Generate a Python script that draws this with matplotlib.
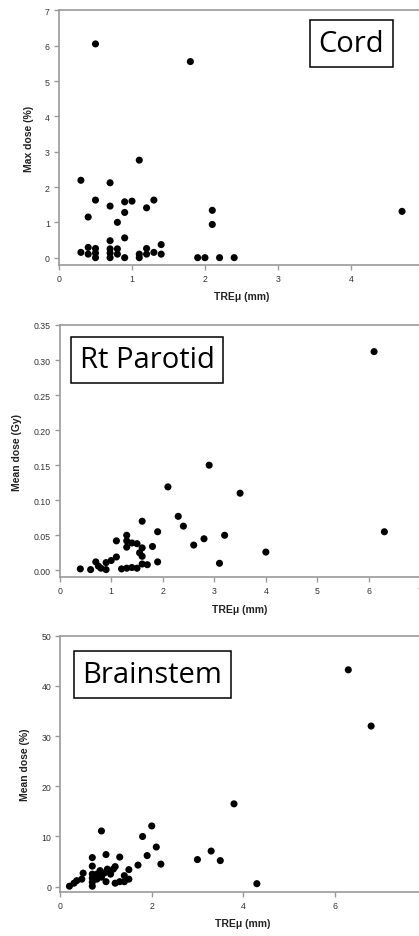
import matplotlib.pyplot as plt

# --- data ---
cord_x = [0.5, 1.8, 1.1, 0.3, 0.7, 0.5, 0.9, 1.0, 1.3, 0.7, 1.2, 0.9, 0.4, 0.8,
          2.1, 2.1, 4.7, 0.9, 0.7, 1.4,
          0.3, 0.4, 0.4, 0.5, 0.5, 0.5, 0.7, 0.7, 0.7, 0.8, 0.8, 0.9,
          1.1, 1.1, 1.2, 1.2, 1.3, 1.4, 1.9, 2.0, 2.2, 2.4]
cord_y = [6.05, 5.55, 2.76, 2.19, 2.12, 1.63, 1.58, 1.6, 1.63, 1.46, 1.41, 1.28, 1.15, 1.0,
          1.34, 0.94, 1.31, 0.56, 0.48, 0.37,
          0.15, 0.29, 0.1, 0.26, 0.13, 0.0, 0.25, 0.13, 0.0, 0.25, 0.1, 0.0,
          0.1, 0.0, 0.26, 0.1, 0.15, 0.1, 0.0, 0.0, 0.0, 0.0]

parotid_x = [6.1, 6.3, 2.9, 2.1, 3.5, 2.3, 2.4, 1.6, 1.9, 3.2, 2.8, 2.6, 4.0, 3.1,
             1.8, 1.9, 1.7, 1.6, 1.1, 1.1, 1.3, 1.3, 1.3, 1.4, 1.5, 1.6, 1.55, 1.6,
             0.4, 0.6, 0.7, 0.75, 0.8, 0.9, 0.9, 1.0, 1.2, 1.3, 1.4, 1.5]
parotid_y = [0.312, 0.055, 0.150, 0.119, 0.110, 0.077, 0.063, 0.070, 0.055, 0.050, 0.045, 0.036, 0.026, 0.010,
             0.034, 0.012, 0.008, 0.009, 0.042, 0.019, 0.050, 0.042, 0.033, 0.039, 0.038, 0.032, 0.025, 0.020,
             0.002, 0.001, 0.012, 0.006, 0.003, 0.001, 0.011, 0.014, 0.002, 0.003, 0.004, 0.003]

brain_x = [6.3, 6.8, 3.8, 2.0, 0.9, 1.8, 2.1, 3.3, 1.9, 3.0, 3.5, 1.0, 1.3, 0.7, 2.2, 1.7, 4.3,
           0.2, 0.3, 0.36, 0.47, 0.5, 0.7, 0.7, 0.7, 0.7, 0.7, 0.8, 0.8, 0.87, 0.9, 0.96,
           1.0, 1.03, 1.1, 1.16, 1.2, 1.2, 1.3, 1.4, 1.4, 1.5, 1.5]
brain_y = [43.2, 32.0, 16.5, 12.1, 11.1, 10.0, 7.9, 7.1, 6.2, 5.4, 5.2, 6.4, 5.9, 5.8, 4.5, 4.3, 0.6,
           0.1, 0.7, 1.2, 1.5, 2.7, 0.1, 0.9, 1.7, 2.5, 4.1, 1.5, 2.5, 3.2, 1.9, 2.7,
           1.0, 3.5, 2.5, 3.5, 4.0, 0.7, 1.0, 2.2, 1.0, 3.4, 1.5]

# tick labels; the last x tick of the top and bottom panel falls past the right edge
cord_xlabels = ["0", "1", "2", "3", "4", ""]
parotid_xlabels = ["0", "1", "2", "3", "4", "5", "6", "7"]
brain_xlabels = ["0", "2", "4", "6", ""]

panels = [
    # (x, y, title, ylabel, xlim, ylim, xticks, xticklabels, yticks, yfmt, rect, title pos)
    (cord_x, cord_y, "Cord", "Max dose (%)", (0, 5), (-0.2, 7),
     [0, 1, 2, 3, 4, 5], cord_xlabels, [0, 1, 2, 3, 4, 5, 6, 7], "{:.0f}",
     [0.1408, 0.7164, 0.871, 0.2715], (351.5, 44.5)),
    (parotid_x, parotid_y, "Rt Parotid", "Mean dose (Gy)", (0, 7), (-0.01, 0.35),
     [0, 1, 2, 3, 4, 5, 6, 7], parotid_xlabels, [0, 0.05, 0.10, 0.15, 0.20, 0.25, 0.30, 0.35], "{:.2f}",
     [0.1425, 0.3828, 0.861, 0.2693], (147, 361)),
    (brain_x, brain_y, "Brainstem", "Mean dose (%)", (0, 8), (-1.05, 50),
     [0, 2, 4, 6, 8], brain_xlabels, [0, 10, 20, 30, 40, 50], "{:.0f}",
     [0.1439, 0.0470, 0.8728, 0.2735], (152.5, 675.5)),
]

W, H = 419, 937
fig = plt.figure(figsize=(W / 100, H / 100), dpi=100)
fig.patch.set_facecolor("white")

spine_col = "#9a9a9a"
tick_font = ["Liberation Sans", "DejaVu Sans"]

for x, y, title, ylab, xl, yl, xt, xtl, yt, yfmt, rect, tpos in panels:
    ax = fig.add_axes(rect)
    ax.scatter(x, y, s=26, color="black", edgecolors="none", zorder=3, clip_on=False)
    ax.set_xlim(*xl)
    ax.set_ylim(*yl)
    ax.set_xticks(xt)
    ax.set_xticklabels(xtl)
    ax.set_yticks(yt)
    ax.set_yticklabels([yfmt.format(v) for v in yt])
    for sp in ax.spines.values():
        sp.set_color(spine_col)
        sp.set_linewidth(1.2)
    ax.tick_params(axis="both", direction="out", length=3.5, width=1, color=spine_col,
                   labelsize=6.3, labelcolor="#333333", pad=3)
    for lab in ax.get_xticklabels() + ax.get_yticklabels():
        lab.set_family(tick_font)
    ax.set_ylabel(ylab, fontsize=7.5, fontweight="bold", family=tick_font, color="#222222", labelpad=8)
    ax.set_xlabel("TREμ (mm)", fontsize=7.5, fontweight="bold", family=tick_font, color="#222222", labelpad=6)

    fig.text(tpos[0] / W, 1 - tpos[1] / H, title, fontsize=21, family=["Open Sans", "DejaVu Sans"],
             ha="center", va="center",
             bbox=dict(boxstyle="square,pad=0.3", facecolor="white", edgecolor="black", linewidth=1.1))

fig.savefig("out.png", dpi=100)
